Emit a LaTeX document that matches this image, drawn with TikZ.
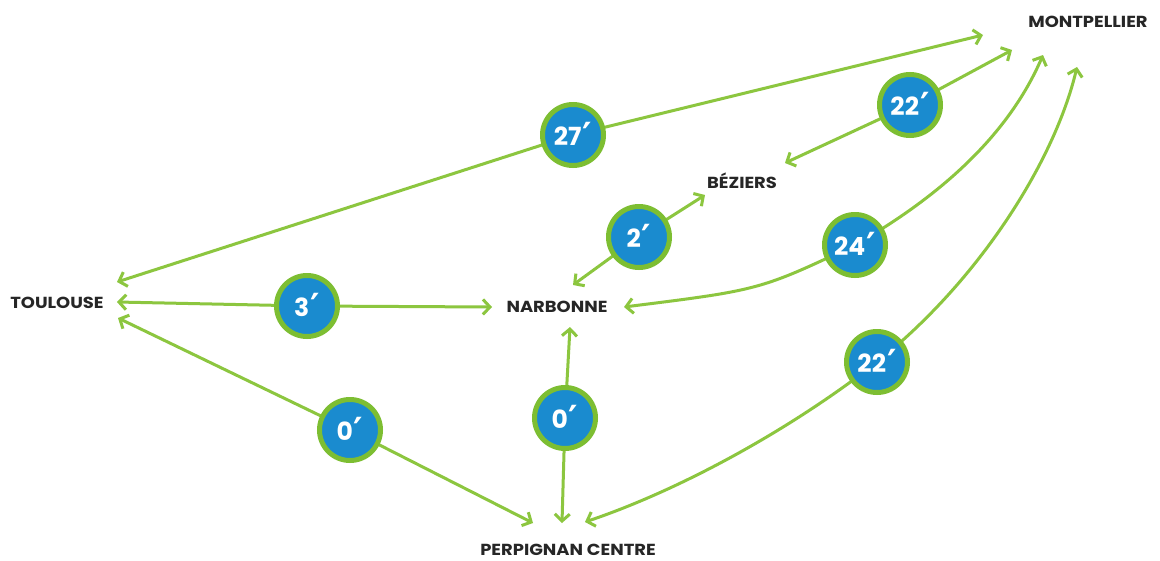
\documentclass[tikz,border=0pt]{standalone}
\usepackage{fontspec}
\setmainfont{Poppins}
\newfontfamily\cityfont[FakeStretch=1.12]{Poppins}
\newfontfamily\primefont{DejaVu Sans}
\usetikzlibrary{arrows.meta}
\definecolor{lgreen}{HTML}{8CC63F}
\definecolor{cgreen}{HTML}{7DBE32}
\definecolor{cblue}{HTML}{1A8BCF}
\definecolor{ctext}{HTML}{262626}
\tikzset{
  city/.style={font=\cityfont\fontsize{16}{18}\selectfont\bfseries, text=ctext, inner sep=0pt},
  tbadge/.style={circle, fill=cblue, draw=cgreen, line width=5pt, minimum size=61pt, inner sep=0pt,
    text=white, font=\fontsize{25}{28}\selectfont\bfseries},
  conn/.style={draw=lgreen, line width=3pt},
  arr/.style={conn, -{Straight Barb[length=7pt,width=15pt]}},
}
\newcommand{\mn}[1]{#1\hspace{1pt}{\primefont\bfseries\fontsize{36}{36}\selectfont\raisebox{-3pt}{\char"2032}}}
\begin{document}
\begin{tikzpicture}[x=1pt,y=-1pt]
\path[use as bounding box, fill=white] (0,0) rectangle (1160,560);

% cities
\node[city] (mtp) at (1088,22) {MONTPELLIER};
\node[city] (bez) at (742,181) {BÉZIERS};
\node[city] (tls) at (57,303) {TOULOUSE};
\node[city] (nar) at (557,307) {NARBONNE};
\node[city] (per) at (568,550) {PERPIGNAN CENTRE};

% arrow end points
\coordinate (e27a) at (117,282);
\coordinate (e27b) at (983,35);
\coordinate (e22a) at (785,163);
\coordinate (e22b) at (1012,50);
\coordinate (e2a) at (573,285);
\coordinate (e2b) at (705,195);
\coordinate (e24a) at (624,307);
\coordinate (e24b) at (1043,55);
\coordinate (e3a) at (117,302);
\coordinate (e3b) at (492,307);
\coordinate (e22la) at (585,522);
\coordinate (e22lb) at (1077,67);
\coordinate (e0la) at (118,318);
\coordinate (e0lb) at (533,523);
\coordinate (e0ma) at (570,327);
\coordinate (e0mb) at (562,523);

% badges (positions)
\coordinate (p27) at (573,135);
\coordinate (p22t) at (910,105);
\coordinate (p2) at (639,237);
\coordinate (p24) at (855,245);
\coordinate (p3) at (307,306);
\coordinate (p22l) at (877,362);
\coordinate (p0l) at (350,430);
\coordinate (p0m) at (565,418);

% connectors (drawn first, badges on top)
\draw[arr] (p27) -- (e27a);
\draw[arr] (p27) -- (e27b);
\draw[arr] (p22t) -- (e22a);
\draw[arr] (p22t) -- (e22b);
\draw[arr] (p2) -- (e2a);
\draw[arr] (p2) -- (e2b);
\draw[arr] (p24) .. controls (760,290) .. (e24a);
\draw[arr] (p24) .. controls (960,185) and (1015,120) .. (e24b);
\draw[arr] (p3) -- (e3a);
\draw[arr] (p3) -- (e3b);
\draw[arr] (p22l) .. controls (790,430) and (680,490) .. (e22la);
\draw[arr] (p22l) .. controls (980,280) and (1055,160) .. (e22lb);
\draw[arr] (p0l) -- (e0la);
\draw[arr] (p0l) -- (e0lb);
\draw[arr] (p0m) -- (e0ma);
\draw[arr] (p0m) -- (e0mb);

\node[tbadge] (b27) at (p27) {\mn{27}};
\node[tbadge] (b22t) at (p22t) {\mn{22}};
\node[tbadge] (b2) at (p2) {\mn{2}};
\node[tbadge] (b24) at (p24) {\mn{24}};
\node[tbadge] (b3) at (p3) {\mn{3}};
\node[tbadge] (b22l) at (p22l) {\mn{22}};
\node[tbadge] (b0l) at (p0l) {\mn{0}};
\node[tbadge] (b0m) at (p0m) {\mn{0}};
\end{tikzpicture}
\end{document}
